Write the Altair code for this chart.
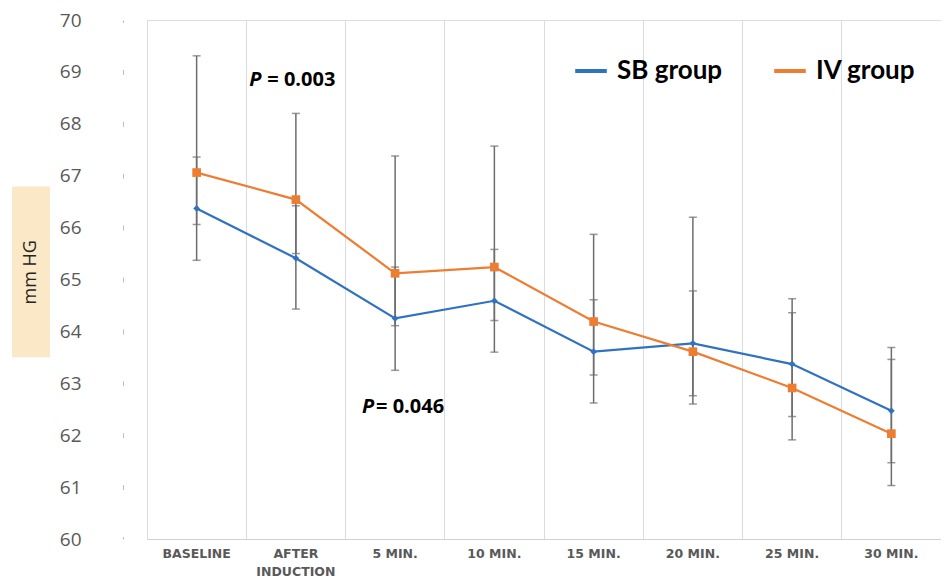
import altair as alt
import pandas as pd

categories = ["BASELINE", "AFTER INDUCTION", "5 MIN.", "10 MIN.", "15 MIN.",
              "20 MIN.", "25 MIN.", "30 MIN."]
groups = ["SB  group", "IV group"]
palette = ["#2e72c0", "#ed7d31"]
shapes = ["diamond", "square"]
sizes = [45, 75]
sb_mean = [66.37, 65.41, 64.25, 64.59, 63.61, 63.77, 63.37, 62.47]
sb_low = [65.37, 64.43, 63.25, 63.60, 62.62, 62.76, 62.36, 61.47]
sb_high = [67.36, 66.42, 65.24, 65.58, 64.61, 64.78, 64.36, 63.46]
iv_mean = [67.06, 66.54, 65.12, 65.24, 64.19, 63.61, 62.91, 62.03]
iv_low = [66.06, 65.50, 64.11, 64.21, 63.16, 62.60, 61.91, 61.03]
iv_high = [69.31, 68.20, 67.38, 67.57, 65.87, 66.20, 64.63, 63.69]
y_ticks = [60, 61, 62, 63, 64, 65, 66, 67, 68, 69, 70]

ann_cat = ["AFTER INDUCTION", "5 MIN."]
ann_val = [68.85, 62.54]
ann_p = ["P", "P"]
ann_rest = ["= 0.003", "= 0.046"]

rows = []
for g, m, lo, hi in [(groups[0], sb_mean, sb_low, sb_high),
                     (groups[1], iv_mean, iv_low, iv_high)]:
    for c, mv, l, h in zip(categories, m, lo, hi):
        rows.append({"cat": c, "group": g, "mean": mv, "low": l, "high": h})
df = pd.DataFrame(rows)
ann = pd.DataFrame({"cat": ann_cat, "val": ann_val, "p": ann_p, "rest": ann_rest})

W, H = 794, 519

x_scale = alt.Scale(type="band", domain=categories, paddingInner=0, paddingOuter=0)
x_axis = alt.Axis(
    bandPosition=0, grid=True, gridColor="#d9dde2",
    gridWidth=1, ticks=False, tickSize=0, domainColor="#d0d0d0",
    labelAngle=0, labelFont="DejaVu Sans", labelFontSize=12.5,
    labelFontWeight="bold", labelColor="#595959", labelPadding=8,
    labelBaseline="top", labelLineHeight=18, title=None,
    labelExpr="datum.label == 'AFTER INDUCTION' ? ['AFTER', 'INDUCTION'] : datum.label",
)


def xe(band=None):
    if band is None:
        return alt.X("cat:N", sort=categories, scale=x_scale, axis=x_axis)
    return alt.X("cat:N", sort=categories, scale=x_scale, axis=x_axis, bandPosition=band)


y_scale = alt.Scale(domain=[60, 70], nice=False, zero=False)
y_axis = alt.Axis(
    values=y_ticks, offset=24, ticks=False, tickSize=0, grid=False,
    domainColor="#bdbdbd", domainWidth=1, domainDash=[5, 46.9], domainDashOffset=2.5,
    labelPadding=42, labelFont="Open Sans", labelFontSize=19, labelColor="#595959",
    title=None,
)


def ye(field):
    return alt.Y(field, scale=y_scale, axis=y_axis)


color_enc = alt.Color(
    "group:N", scale=alt.Scale(domain=groups, range=palette),
    legend=alt.Legend(
        orient="none", legendX=426, legendY=33, direction="horizontal", title=None,
        symbolType="stroke", symbolStrokeWidth=4, symbolSize=1000,
        labelFont="Lato", labelFontSize=26, labelFontWeight="bold",
        labelColor="black", columnPadding=37, labelOffset=8, padding=0,
    ),
)

base = alt.Chart(df)

stems = base.mark_rule(color="#6d6d6d", strokeWidth=1.5).encode(
    x=xe(), y=ye("low:Q"), y2="high:Q"
)
caps = base.transform_fold(["low", "high"], as_=["kind", "v"]).mark_tick(
    color="#6d6d6d", size=8, thickness=1.5
).encode(x=xe(), y=ye("v:Q"), detail="group:N")

lines = base.mark_line(strokeWidth=2.2).encode(x=xe(), y=ye("mean:Q"), color=color_enc)

point_layers = []
for g, c, s, sz in zip(groups, palette, shapes, sizes):
    point_layers.append(
        alt.Chart(df[df["group"] == g]).mark_point(
            filled=True, opacity=1, color=c, shape=s, size=sz
        ).encode(x=xe(), y=ye("mean:Q"))
    )

p_dx = [3, 16.5]
rest_dx = [21, 30.5]
ann_layers = []
for i in range(len(ann_cat)):
    sub = alt.Chart(ann.iloc[[i]])
    ann_layers.append(sub.mark_text(
        align="left", baseline="middle", dx=p_dx[i], font="Open Sans", fontSize=20,
        fontWeight="bold", fontStyle="italic", color="black"
    ).encode(x=xe(0), y=ye("val:Q"), text="p:N"))
    ann_layers.append(sub.mark_text(
        align="left", baseline="middle", dx=rest_dx[i], font="Open Sans", fontSize=20,
        fontWeight="bold", color="black"
    ).encode(x=xe(0), y=ye("val:Q"), text="rest:N"))

one = pd.DataFrame({"a": [0]})
label_box = alt.Chart(one).mark_rect(color="#fbe8c6").encode(
    x=alt.value(-135), x2=alt.value(-97),
    y=alt.datum(66.79, scale=y_scale, axis=y_axis), y2=alt.datum(63.5)
)
label_txt = alt.Chart(one).mark_text(
    angle=270, align="center", baseline="middle", font="Open Sans", fontSize=18,
    color="#262626"
).encode(x=alt.value(-116), y=alt.datum(65.14, scale=y_scale, axis=y_axis),
         text=alt.value("mm HG"))

chart = alt.layer(
    label_box, label_txt, stems, caps, lines, *point_layers, *ann_layers
).properties(
    width=W, height=H,
    padding={"left": 139, "top": 12, "right": 0, "bottom": 40},
    autosize=alt.AutoSizeParams(type="none"),
).configure_view(stroke=None).configure(background="white")

chart.save("out.html", embed_options={"renderer": "svg", "actions": False})
